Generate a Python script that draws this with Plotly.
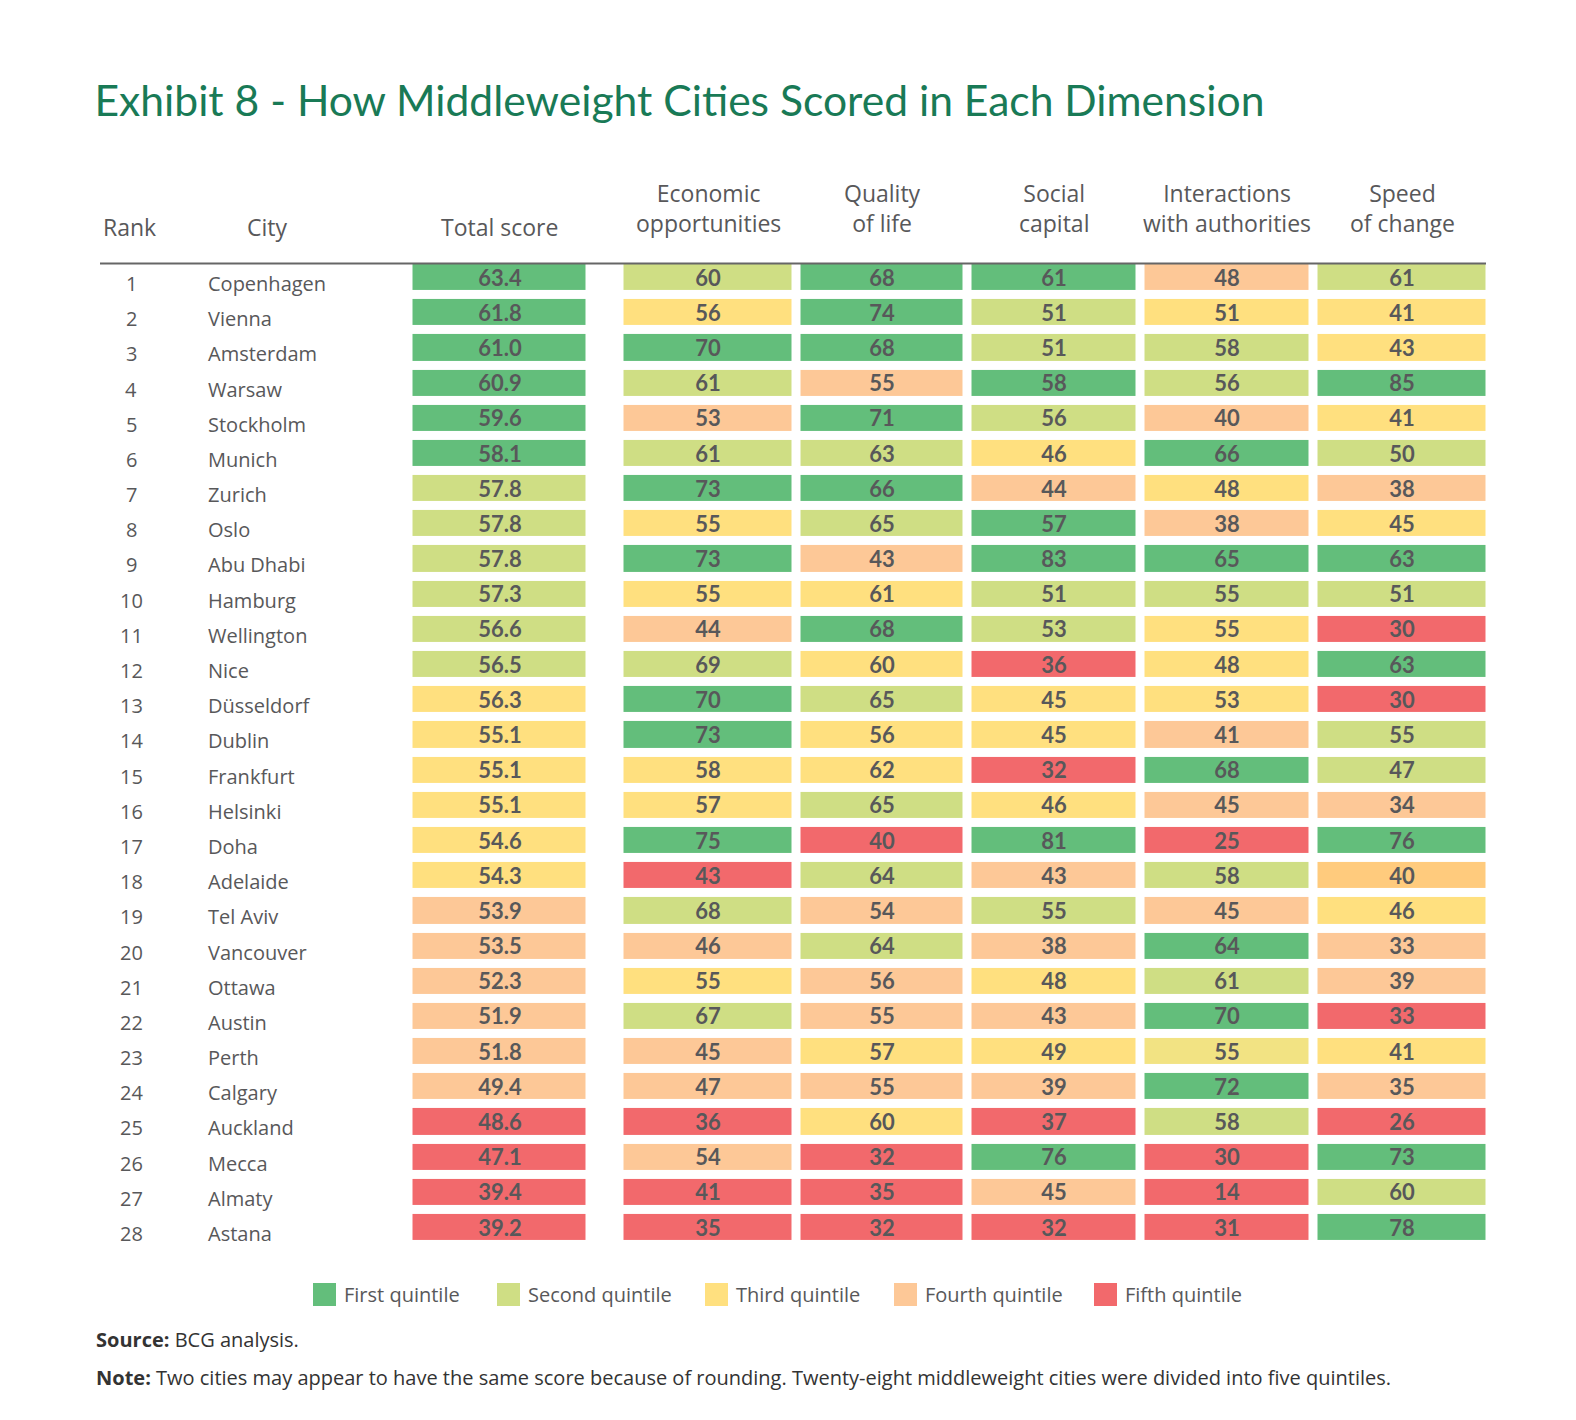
import plotly.graph_objects as go

# data read from the exhibit
cities = ["Copenhagen", "Vienna", "Amsterdam", "Warsaw", "Stockholm", "Munich", "Zurich",
          "Oslo", "Abu Dhabi", "Hamburg", "Wellington", "Nice", "Düsseldorf", "Dublin",
          "Frankfurt", "Helsinki", "Doha", "Adelaide", "Tel Aviv", "Vancouver", "Ottawa",
          "Austin", "Perth", "Calgary", "Auckland", "Mecca", "Almaty", "Astana"]
ranks = list(range(1, len(cities) + 1))

total_score = [63.4, 61.8, 61.0, 60.9, 59.6, 58.1, 57.8, 57.8, 57.8, 57.3, 56.6, 56.5, 56.3, 55.1,
               55.1, 55.1, 54.6, 54.3, 53.9, 53.5, 52.3, 51.9, 51.8, 49.4, 48.6, 47.1, 39.4, 39.2]
economic = [60, 56, 70, 61, 53, 61, 73, 55, 73, 55, 44, 69, 70, 73,
            58, 57, 75, 43, 68, 46, 55, 67, 45, 47, 36, 54, 41, 35]
quality = [68, 74, 68, 55, 71, 63, 66, 65, 43, 61, 68, 60, 65, 56,
           62, 65, 40, 64, 54, 64, 56, 55, 57, 55, 60, 32, 35, 32]
social = [61, 51, 51, 58, 56, 46, 44, 57, 83, 51, 53, 36, 45, 45,
          32, 46, 81, 43, 55, 38, 48, 43, 49, 39, 37, 76, 45, 32]
interactions = [48, 51, 58, 56, 40, 66, 48, 38, 65, 55, 55, 48, 53, 41,
                68, 45, 25, 58, 45, 64, 61, 70, 55, 72, 58, 30, 14, 31]
speed = [61, 41, 43, 85, 41, 50, 38, 45, 63, 51, 30, 63, 30, 55,
         47, 34, 76, 40, 46, 33, 39, 33, 41, 35, 26, 73, 60, 78]

# colour class of each cell as shown (1-5 = quintile, 6/7 = odd shades in the original)
q_total = [1, 1, 1, 1, 1, 1, 2, 2, 2, 2, 2, 2, 3, 3, 3, 3, 3, 3, 4, 4, 4, 4, 4, 4, 5, 5, 5, 5]
q_economic = [2, 3, 1, 2, 4, 2, 1, 3, 1, 3, 4, 2, 1, 1, 3, 3, 1, 5, 2, 4, 3, 2, 4, 4, 5, 4, 5, 5]
q_quality = [1, 1, 1, 4, 1, 2, 1, 2, 4, 3, 1, 3, 2, 3, 3, 2, 5, 2, 4, 2, 4, 4, 3, 4, 3, 5, 5, 5]
q_social = [1, 2, 2, 1, 2, 3, 4, 1, 1, 2, 2, 5, 3, 3, 5, 3, 1, 4, 2, 4, 3, 4, 3, 4, 5, 1, 4, 5]
q_interactions = [4, 3, 2, 2, 4, 1, 3, 4, 1, 2, 3, 3, 3, 4, 1, 4, 5, 2, 4, 1, 2, 1, 7, 1, 2, 5, 5, 5]
q_speed = [2, 3, 3, 1, 3, 2, 4, 3, 1, 2, 5, 1, 5, 2, 2, 4, 1, 6, 3, 4, 4, 5, 3, 4, 5, 1, 2, 1]

headers = ["Total score", "Economic<br>opportunities", "Quality<br>of life", "Social<br>capital",
           "Interactions<br>with authorities", "Speed<br>of change"]
legend_names = ["First quintile", "Second quintile", "Third quintile", "Fourth quintile", "Fifth quintile"]

class_colors = ["#63BE7B", "#CFDE84", "#FFE07F", "#FDC897", "#F2696C", "#FFCB7D", "#F2E383"]

TEXT = "#58585A"
GREEN = "#197A56"
W, H = 1576, 1420
M = 8  # page body margin
FW, FH = W - 2 * M, H - 2 * M


def px(p):
    return (p - M) / FW


def py(p):
    return 1 - (p - M) / FH


# column layout in page pixels (x axis = page x); a blank column sits after the total score
col_edges = [408.5, 590.5, 619.5, 796.5, 967.5, 1140.5, 1313.5, 1490.5]
row_top, row_bottom = 259.9, 1245.1

values = [total_score, None, economic, quality, social, interactions, speed]
classes = [q_total, None, q_economic, q_quality, q_social, q_interactions, q_speed]

z, text = [], []
for i in range(len(cities)):
    zr, tr = [], []
    for vals, cls in zip(values, classes):
        if vals is None:
            zr.append(None)
            tr.append("")
        else:
            zr.append(cls[i])
            tr.append(f"{vals[i]:.1f}" if vals is total_score else f"{vals[i]:d}")
    z.append(zr)
    text.append(tr)

n = len(class_colors)
scale = []
for k, c in enumerate(class_colors):
    scale.append([k / n, c])
    scale.append([(k + 1) / n, c])

fig = go.Figure()
fig.add_trace(go.Heatmap(
    z=z, x=col_edges, y=ranks, text=text, texttemplate="%{text}",
    textfont=dict(family="Lato", size=22, color=TEXT, weight="bold"),
    colorscale=scale, zmin=0.5, zmax=n + 0.5, showscale=False,
    xgap=9, ygap=9, hoverinfo="skip",
))

ann = []
for r, city in zip(ranks, cities):
    ann.append(dict(x=131, y=r, xref="x", yref="y", text=str(r), showarrow=False,
                    xanchor="center", yanchor="middle", yshift=-6, font=dict(size=20, color=TEXT)))
    ann.append(dict(x=206, y=r, xref="x", yref="y", text=city, showarrow=False,
                    xanchor="left", yanchor="middle", yshift=-6, font=dict(size=20, color=TEXT)))

# header row
centers = [(col_edges[0] + col_edges[1]) / 2] + \
          [(col_edges[k] + col_edges[k + 1]) / 2 for k in range(2, len(col_edges) - 1)]
ann.append(dict(x=129, y=py(227), xref="x", yref="paper", text="Rank", showarrow=False,
                xanchor="center", yanchor="middle", font=dict(size=23, color=TEXT)))
ann.append(dict(x=267, y=py(227), xref="x", yref="paper", text="City", showarrow=False,
                xanchor="center", yanchor="middle", font=dict(size=23, color=TEXT)))
for cx, h in zip(centers, headers):
    ann.append(dict(x=cx, y=py(208 if "<br>" in h else 227), xref="x", yref="paper",
                    text=h, showarrow=False, xanchor="center", yanchor="middle",
                    font=dict(size=23, color=TEXT)))

# legend: swatch + label
legend_x = [313, 497, 705, 894, 1094]
for lx, name, c in zip(legend_x, legend_names, class_colors[:5]):
    ann.append(dict(x=px(lx + 29), y=py(1294), xref="paper", yref="paper", text=name,
                    showarrow=False, xanchor="left", yanchor="middle", font=dict(size=20, color=TEXT)))
shapes = [dict(type="rect", xref="paper", yref="paper", x0=px(lx), x1=px(lx + 23),
               y0=py(1306), y1=py(1283), fillcolor=c, line=dict(width=0))
          for lx, c in zip(legend_x, class_colors[:5])]

shapes.append(dict(type="line", xref="x", yref="paper", x0=100, x1=1486,
                   y0=py(263.5), y1=py(263.5), line=dict(color="#666666", width=2)))

ann.append(dict(x=px(93.5), y=py(1339), xref="paper", yref="paper", xanchor="left", yanchor="middle",
                text="<b>Source:</b> BCG analysis.", showarrow=False,
                font=dict(size=20, color="#333333")))
ann.append(dict(x=px(93.5), y=py(1377), xref="paper", yref="paper", xanchor="left", yanchor="middle",
                text="<b>Note:</b> Two cities may appear to have the same score because of rounding. "
                     "Twenty-eight middleweight cities were divided into five quintiles.",
                showarrow=False, font=dict(size=20, color="#333333")))

fig.update_layout(
    width=FW, height=FH,
    margin=dict(l=0, r=0, t=0, b=0),
    paper_bgcolor="white", plot_bgcolor="white",
    font=dict(family="Open Sans", color=TEXT),
    title=dict(text="Exhibit 8 - How Middleweight Cities Scored in Each Dimension",
               x=px(94.5), xanchor="left", y=py(101.5), yanchor="middle",
               font=dict(family="Lato", size=42.6, color=GREEN)),
    xaxis=dict(range=[M, W - M], visible=False, fixedrange=True),
    yaxis=dict(range=[len(cities) + 0.5, 0.5], visible=False, fixedrange=True,
               domain=[py(row_bottom), py(row_top)]),
    showlegend=False,
    annotations=ann,
    shapes=shapes,
)

fig.write_html("out.html")
